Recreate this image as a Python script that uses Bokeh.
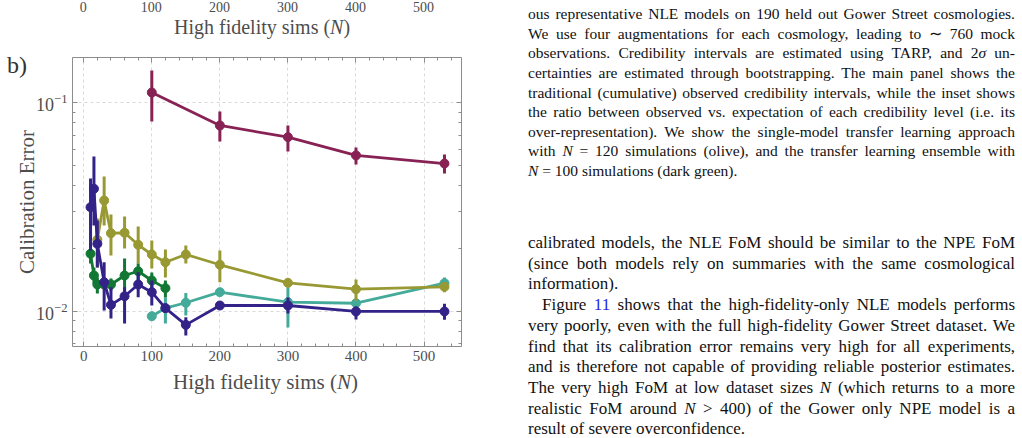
from bokeh.plotting import figure
from bokeh.models import (ColumnDataSource, LinearAxis, LogAxis, FixedTicker,
                          SingleIntervalTicker, Range1d, Div)
from bokeh.layouts import row
from bokeh.embed import file_html
from bokeh.resources import INLINE

# ---------------- data ----------------
N_maroon = [100, 200, 300, 400, 530]
err_maroon = [0.112, 0.0778, 0.0684, 0.0559, 0.0511]
lo_maroon = [0.0813, 0.0652, 0.0584, 0.0506, 0.0458]
hi_maroon = [0.1429, 0.0908, 0.0778, 0.0610, 0.0565]

N_teal = [100, 120, 150, 200, 300, 400, 530]
err_teal = [0.00946, 0.01034, 0.01098, 0.01234, 0.01105, 0.01092, 0.01363]
lo_teal = [0.00946, 0.00873, 0.00954, 0.0121, 0.00835, 0.0107, 0.01271]
hi_teal = [0.00946, 0.01163, 0.01221, 0.0126, 0.01304, 0.0112, 0.01451]

N_olive = [20, 30, 40, 60, 80, 100, 120, 150, 200, 300, 400, 530]
err_olive = [0.02202, 0.03398, 0.02367, 0.02378, 0.02083, 0.01871, 0.01718, 0.01871, 0.0167, 0.01368, 0.01275, 0.01309]
lo_olive = [0.0162, 0.02577, 0.01851, 0.0200, 0.01694, 0.01603, 0.01451, 0.01694, 0.01377, 0.0133, 0.01125, 0.01234]
hi_olive = [0.02785, 0.0443, 0.02911, 0.02847, 0.02549, 0.02184, 0.01977, 0.02067, 0.01956, 0.0140, 0.0142, 0.01363]

N_green = [10, 15, 20, 30, 40, 60, 80, 100, 120]
err_green = [0.01886, 0.01483, 0.01343, 0.01343, 0.01343, 0.01483, 0.01555, 0.01404, 0.0129]
lo_green = [0.01694, 0.01358, 0.01216, 0.0128, 0.01258, 0.01258, 0.01404, 0.01285, 0.01163]
hi_green = [0.02113, 0.0162, 0.01451, 0.0140, 0.01435, 0.0179, 0.01694, 0.01533, 0.01404]

N_indigo = [10, 15, 20, 30, 40, 60, 80, 100, 120, 150, 200, 300, 400, 530]
err_indigo = [0.03155, 0.03867, 0.02105, 0.01377, 0.01073, 0.0118, 0.01343, 0.01234, 0.01034, 0.0086, 0.01065, 0.01065, 0.00997, 0.00997]
lo_indigo = [0.01956, 0.02577, 0.0162, 0.01008, 0.00923, 0.00873, 0.01167, 0.01065, 0.00986, 0.00764, 0.0104, 0.00975, 0.00912, 0.00909]
hi_indigo = [0.04334, 0.05526, 0.02724, 0.01718, 0.01304, 0.01304, 0.01538, 0.01404, 0.01089, 0.00936, 0.0109, 0.01163, 0.01053, 0.01085]

x_major = [0, 100, 200, 300, 400, 500]
y_major = [0.01, 0.1]
y_minor = [0.007, 0.008, 0.009, 0.02, 0.03, 0.04, 0.05, 0.06, 0.07, 0.08, 0.09]

x_label = "High fidelity sims (<i>N</i>)"
y_label = "Calibration Error"
panel_tag = "b)"

caption_lines = [
    "ous representative NLE models on 190 held out Gower Street cosmologies.",
    "We use four augmentations for each cosmology, leading to &sim; 760 mock",
    "observations. Credibility intervals are estimated using TARP, and 2<i>&sigma;</i> un-",
    "certainties are estimated through bootstrapping. The main panel shows the",
    "traditional (cumulative) observed credibility intervals, while the inset shows",
    "the ratio between observed vs. expectation of each credibility level (i.e. its",
    "over-representation). We show the single-model transfer learning approach",
    "with <i>N</i> = 120 simulations (olive), and the transfer learning ensemble with",
    "<i>N</i> = 100 simulations (dark green).",
]
body_lines = [
    "calibrated models, the NLE FoM should be similar to the NPE FoM",
    "(since both models rely on summaries with the same cosmological",
    "information).",
    "Figure <span style='color:#1f1fe0'>11</span> shows that the high-fidelity-only NLE models performs",
    "very poorly, even with the full high-fidelity Gower Street dataset. We",
    "find that its calibration error remains very high for all experiments,",
    "and is therefore not capable of providing reliable posterior estimates.",
    "The very high FoM at low dataset sizes <i>N</i> (which returns to a more",
    "realistic FoM around <i>N</i> &gt; 400) of the Gower only NPE model is a",
    "result of severe overconfidence.",
]

# ---------------- figure ----------------
FL, FR, FT, FB = 72, 461, 57, 346   # frame edges in page pixels
X0, X1 = -16.5, 555
GRAY = "#8c8c8c"
TXT = "#4d4d4d"
FONT = "Liberation Serif"
PW = 480

p = figure(width=PW, height=438, x_range=Range1d(X0, X1), y_range=Range1d(0.00677, 0.1649),
           y_axis_type="log", output_backend="svg", toolbar_location=None,
           min_border_left=FL, min_border_right=PW - FR, min_border_top=FT, min_border_bottom=438 - FB)
p.outline_line_color = None
p.background_fill_color = "white"
p.border_fill_color = "white"

xticker = SingleIntervalTicker(interval=100, num_minor_ticks=5)
yticker = FixedTicker(ticks=y_major, minor_ticks=y_minor)


def style(ax, labels=True):
    ax.axis_line_color = GRAY
    ax.major_tick_line_color = GRAY
    ax.minor_tick_line_color = GRAY
    ax.major_tick_in = 5
    ax.major_tick_out = 0
    ax.minor_tick_in = 3
    ax.minor_tick_out = 0
    ax.major_label_text_font = FONT
    ax.major_label_text_font_size = "15px" if labels else "6px"
    ax.major_label_text_color = TXT if labels else None
    ax.major_label_standoff = 4 if labels else 0


xa = p.xaxis[0]
xa.ticker = xticker
style(xa)
ya = p.yaxis[0]
ya.ticker = yticker
style(ya)
ya.major_label_text_font_size = "18px"
ya.major_label_standoff = 5

top = LinearAxis(ticker=xticker)
style(top, labels=False)
p.add_layout(top, "above")
right = LogAxis(ticker=yticker)
style(right, labels=False)
p.add_layout(right, "right")

p.xgrid.ticker = xticker
p.ygrid.ticker = yticker
for g in (p.xgrid[0], p.ygrid[0]):
    g.grid_line_color = "#d9d9d9"
    g.grid_line_dash = "3 3"
    g.grid_line_width = 1

series = [
    (N_maroon, err_maroon, lo_maroon, hi_maroon, "#882255"),
    (N_teal, err_teal, lo_teal, hi_teal, "#44AA99"),
    (N_olive, err_olive, lo_olive, hi_olive, "#999933"),
    (N_green, err_green, lo_green, hi_green, "#117733"),
    (N_indigo, err_indigo, lo_indigo, hi_indigo, "#332288"),
]
for xs, ys, lo, hi, c in series:
    src = ColumnDataSource(dict(x=xs, y=ys, lo=lo, hi=hi))
    p.segment(x0="x", y0="lo", x1="x", y1="hi", source=src, line_color=c, line_width=3)
    p.line("x", "y", source=src, line_color=c, line_width=2.8)
    p.scatter("x", "y", source=src, size=9, fill_color=c, line_color=c, line_width=1)

# ---------------- text layer (right column + labels around the chart) ----------------
parts = ['<div style="position:relative;width:542px;height:438px;overflow:visible;'
         'font-family:\'Liberation Serif\',serif;color:#111;">']


def line_div(t, left, top_, width, fs, lh, justify):
    j = "text-align:justify;text-align-last:justify;" if justify else "text-align:left;"
    return (f'<div style="position:absolute;left:{left}px;top:{top_:.1f}px;width:{width}px;'
            f'font-size:{fs}px;line-height:{lh}px;white-space:nowrap;{j}">{t}</div>')


def free_div(t, page_x, baseline, fs, align="left", width=300, color=TXT, extra=""):
    # page coords -> coords inside the text column (which starts at x = PW)
    top_ = baseline - 0.8375 * fs
    if align == "center":
        left = page_x - PW - width / 2
    else:
        left = page_x - PW
    return (f'<div style="position:absolute;left:{left:.1f}px;top:{top_:.1f}px;width:{width}px;'
            f'font-size:{fs}px;line-height:{fs}px;white-space:nowrap;text-align:{align};'
            f'color:{color};{extra}">{t}</div>')


for i, t in enumerate(caption_lines):
    c = 14 + 19.6 * i
    parts.append(line_div(t, 48, c - 9.8, 487, 15.5, 20, i < len(caption_lines) - 1))
for i, t in enumerate(body_lines):
    c = 242.3 + 20.7 * i
    left, w = (62, 473) if i == 3 else (48, 487)
    parts.append(line_div(t, left, c - 10.3, w, 17, 21, i not in (2, len(body_lines) - 1)))

# x-axis label of panel b) and the one of panel a) at the page top
parts.append(free_div(x_label, 173, 390, 21))
parts.append(free_div(x_label, 174, 33.5, 20))
# tick labels of panel a) at the page top (same x scale as panel b)
for v in x_major:
    px = FL + (v - X0) / (X1 - X0) * (FR - FL)
    parts.append(free_div(str(v), px, 12.6, 14, align="center", width=50))
# y-axis label (rotated) and panel tag
cx, cy, w, h = 27, 202, 220, 24
parts.append(f'<div style="position:absolute;left:{cx - PW - w / 2:.1f}px;top:{cy - h / 2:.1f}px;'
             f'width:{w}px;height:{h}px;font-size:21px;line-height:{h}px;text-align:center;'
             f'white-space:nowrap;color:{TXT};transform:rotate(-90deg);transform-origin:50% 50%;">'
             f'{y_label}</div>')
parts.append(free_div(panel_tag, 7, 73, 24, color="#333333"))
parts.append("</div>")

div = Div(text="".join(parts), width=542, height=438, margin=(0, 0, 0, 0),
          styles={"overflow": "visible"})
p.margin = (0, 0, 0, 0)

layout = row(p, div, spacing=0)
open("out.html", "w").write(file_html(layout, INLINE))
